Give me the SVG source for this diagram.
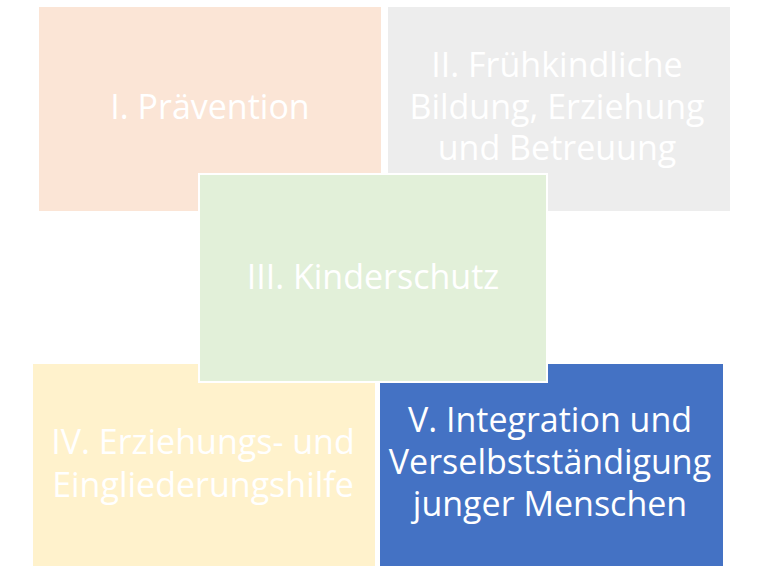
<svg xmlns="http://www.w3.org/2000/svg" width="765" height="574" viewBox="0 0 765 574">
<style>
.box{stroke:#ffffff;stroke-width:2}
.t{font-family:"Open Sans","Liberation Sans",sans-serif;font-size:34px;fill:#ffffff;text-anchor:middle}
</style>
<rect width="765" height="574" fill="#ffffff"/>
<g id="node-1">
<rect class="box" x="38" y="6" width="344" height="206" fill="#FBE5D6"/>
<text class="t" x="210" y="119">I. Prävention</text>
</g>
<g id="node-2">
<rect class="box" x="387" y="6" width="344" height="206" fill="#EDEDED"/>
<text class="t" x="557" y="77">II. Frühkindliche</text>
<text class="t" x="557" y="118.5">Bildung, Erziehung</text>
<text class="t" x="557" y="160">und Betreuung</text>
</g>
<g id="node-4">
<rect class="box" x="32" y="363" width="344" height="204" fill="#FFF2CC"/>
<text class="t" x="203" y="454">IV. Erziehungs- und</text>
<text class="t" x="203" y="496.5">Eingliederungshilfe</text>
</g>
<g id="node-5">
<rect class="box" x="379" y="363" width="345" height="204" fill="#4472C4"/>
<text class="t" x="550" y="432">V. Integration und</text>
<text class="t" x="550" y="474">Verselbstständigung</text>
<text class="t" x="550" y="516">junger Menschen</text>
</g>
<g id="node-3">
<rect class="box" x="199" y="174" width="348" height="208" fill="#E2F0D9"/>
<text class="t" x="373" y="289">III. Kinderschutz</text>
</g>
<g id="connectors"></g>
</svg>
